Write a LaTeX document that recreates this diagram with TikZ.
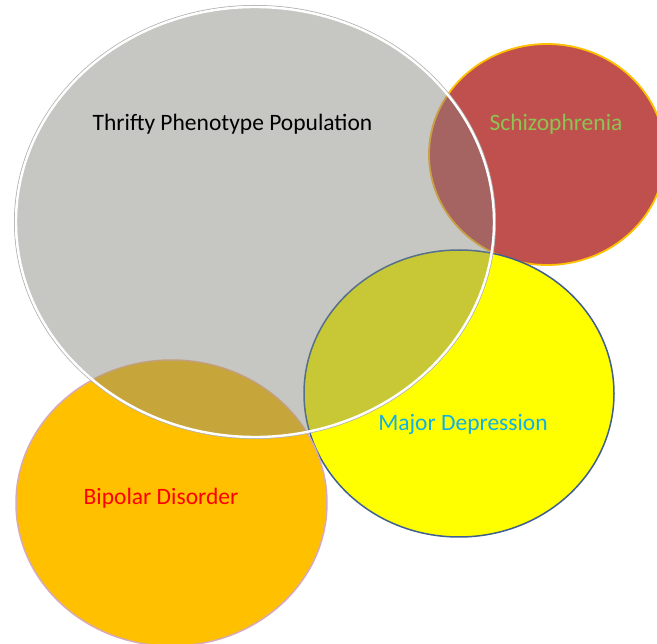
\documentclass[tikz,border=0pt]{standalone}
\usepackage{fontspec}
\setmainfont{Carlito}
\definecolor{grayfill}{HTML}{C6C6C2}
\definecolor{redfill}{HTML}{C0504D}
\definecolor{redline}{HTML}{FFC000}
\definecolor{yelfill}{HTML}{FFFF00}
\definecolor{yelline}{HTML}{3F5F8F}
\definecolor{orfill}{HTML}{FFC000}
\definecolor{orline}{HTML}{D8AAB8}
\definecolor{gr-red}{HTML}{A56461}
\definecolor{gr-redline}{HTML}{C9A048}
\definecolor{gr-yel}{HTML}{C8C837}
\definecolor{gr-yelline}{HTML}{56708A}
\definecolor{gr-or}{HTML}{C6A53A}
\definecolor{gr-orline}{HTML}{C3A07C}
\definecolor{schizo}{HTML}{8DC352}
\definecolor{majdep}{HTML}{10B0E8}
\tikzset{
  lbl/.style={inner sep=0pt, font=\fontsize{23.5}{28}\selectfont},
}
\begin{document}
\begin{tikzpicture}[x=1pt,y=-1pt]
\useasboundingbox (0,0) rectangle (657,644);
\fill[white] (0,0) rectangle (657,644);
% Schizophrenia
\filldraw[fill=redfill, draw=redline, line width=1.8pt] (547,154.5) ellipse [x radius=118pt, y radius=110.5pt];
% Major depression
\filldraw[fill=yelfill, draw=yelline, line width=1.5pt] (459,393.5) ellipse [x radius=155pt, y radius=143.5pt];
% Bipolar
\filldraw[fill=orfill, draw=orline, line width=1.5pt] (171.5,503) ellipse [x radius=155.5pt, y radius=143pt];
% Thrifty (grey)
\fill[grayfill] (255,222) ellipse [x radius=239pt, y radius=215pt];
\begin{scope}
  \clip (255,222) ellipse [x radius=239pt, y radius=215pt];
  \filldraw[fill=gr-red, draw=gr-redline, line width=1.8pt] (547,154.5) ellipse [x radius=118pt, y radius=110.5pt];
  \filldraw[fill=gr-yel, draw=gr-yelline, line width=1.5pt] (459,393.5) ellipse [x radius=155pt, y radius=143.5pt];
  \filldraw[fill=gr-or, draw=gr-orline, line width=1.5pt] (171.5,503) ellipse [x radius=155.5pt, y radius=143pt];
\end{scope}
\draw[color=black!30, line width=1pt] (255,222) ellipse [x radius=240.5pt, y radius=216.5pt];
\draw[white, line width=2.4pt] (255,222) ellipse [x radius=239pt, y radius=215pt];
% labels
\node[lbl, text=black] (thrifty) at (232.5,124.5) {Thrifty Phenotype Population};
\node[lbl, text=schizo] (schizo) at (556,124.5) {Schizophrenia};
\node[lbl, text=majdep] (majdep) at (463,424.5) {Major Depression};
\node[lbl, text=red] (bipolar) at (161,498.5) {Bipolar Disorder};
\end{tikzpicture}
\end{document}
